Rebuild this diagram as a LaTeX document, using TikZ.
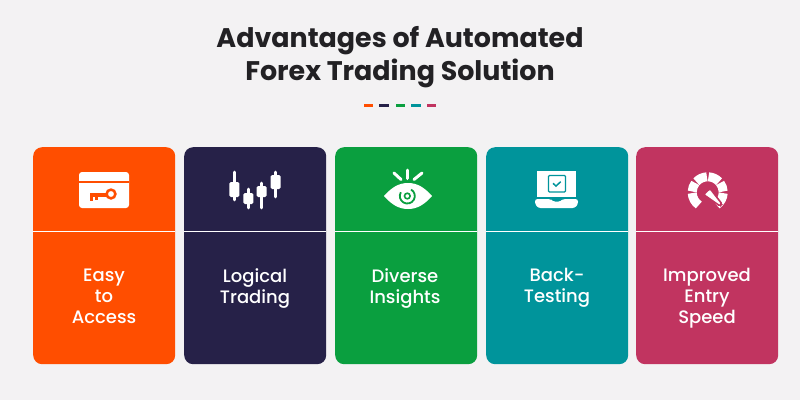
\documentclass[tikz,border=0pt]{standalone}
\usepackage{fontspec}
\setmainfont{Poppins}
\newfontfamily\labelfont{Poppins Medium}
\definecolor{pageback}{HTML}{F3F2F3}
\definecolor{titleink}{HTML}{222124}
\definecolor{cardorange}{HTML}{FF4E00}
\definecolor{cardnavy}{HTML}{262148}
\definecolor{cardgreen}{HTML}{0A9F3F}
\definecolor{cardteal}{HTML}{00949B}
\definecolor{cardrose}{HTML}{C13460}
\tikzset{
  card/.style={fill=#1, minimum width=142pt, minimum height=217pt, rounded corners=9pt, anchor=north west, inner sep=0pt},
  cardtext/.style={text=white, font=\labelfont\fontsize{18}{21}\selectfont, align=center},
  divider/.style={draw=white, line width=1pt},
  headtext/.style={text=titleink, font=\bfseries\fontsize{26.9}{33}\selectfont, align=center},
  tick/.style={line width=3.5pt}
}
\begin{document}
\begin{tikzpicture}[x=1pt,y=-1pt]
\useasboundingbox (0,0) rectangle (800,400);
\fill[pageback] (0,0) rectangle (800,400);

\node[headtext] (title) at (400,57) {Advantages of Automated\\Forex Trading Solution};

\draw[tick,cardorange] (364,105.7) -- (373,105.7);
\draw[tick,cardnavy] (379,105.7) -- (389,105.7);
\draw[tick,cardgreen] (396,105.7) -- (405,105.7);
\draw[tick,cardteal] (411,105.7) -- (421,105.7);
\draw[tick,cardrose] (427,105.7) -- (436,105.7);

\node[card=cardorange] (access) at (33,147) {};
\node[card=cardnavy] (logical) at (184,147) {};
\node[card=cardgreen] (diverse) at (335,147) {};
\node[card=cardteal] (backtest) at (486,147) {};
\node[card=cardrose] (entry) at (636,147) {};

\foreach \c in {access,logical,diverse,backtest,entry}
  \draw[divider] (\c.west |- 0,231) -- (\c.east |- 0,231);

\node[cardtext] (accesstext) at (104,296.5) {Easy\\to\\Access};
\node[cardtext] (logicaltext) at (255,288.5) {Logical\\Trading};
\node[cardtext] (diversetext) at (405,288.5) {Diverse\\Insights};
\node[cardtext] (backtesttext) at (557,287.5) {Back-\\Testing};
\node[cardtext] (entrytext) at (707,298.5) {Improved\\Entry\\Speed};

% key card
\fill[white,rounded corners=3pt] (79,172) rectangle (129,208);
\fill[cardorange] (79,181) rectangle (129,183);
\draw[cardorange,line width=2.5pt] (111,194) circle (4.4);
\fill[cardorange] (90,193) rectangle (107,196.5);
\fill[cardorange] (90,193) rectangle (92.8,200.5);
\fill[cardorange] (95,193) rectangle (97.8,199.5);

% candles
\foreach \x/\wa/\wb/\ba/\bb in {234.3/172/200/182/197, 248.3/189/208/193/204, 261.7/183/208/186/197, 275.7/172/197/175/189} {
  \draw[white,line width=2.8pt,line cap=round] (\x,\wa) -- (\x,\wb);
  \fill[white,rounded corners=1.5pt] (\x-5,\ba) rectangle (\x+5,\bb);
}

% eye
\fill[white] (384,196) .. controls (392,187) and (399,183) .. (408,183) .. controls (417,183) and (424,187) .. (432,196)
  .. controls (424,205) and (417,209) .. (408,209) .. controls (399,209) and (392,205) .. (384,196) -- cycle;
\draw[cardgreen,line width=1.8pt] (407.3,196)++(-60:7.5) arc[start angle=-60, end angle=210, radius=7.5];
\draw[cardgreen,line width=1.6pt] (407.3,196) circle (2.8);
\draw[white,line width=3pt,line cap=round] (407.8,170) -- (407.8,178.5);
\draw[white,line width=3pt,line cap=round] (394,173) -- (401,179.5);
\draw[white,line width=3pt,line cap=round] (422,173) -- (414,179.5);

% laptop
\fill[white] (537,171) rectangle (576,197);
\draw[cardteal,line width=1.3pt,rounded corners=1pt] (548.5,175.5) rectangle (565.5,192);
\draw[cardteal,line width=1.5pt] (553,183.3) -- (556,186) -- (560.7,181.7);
\fill[white,rounded corners=2.5pt] (535,199) -- (550.7,199) -- (552.5,201.5) -- (561,201.5) -- (562.7,199) -- (578,199) -- (578,204) -- (575,208) -- (538,208) -- (535,204) -- cycle;

% gauge
\foreach \a/\b in {-183/-235, -143/-177, -93/-137, -43/-87, -3/-37, 3/55}
  \draw[white,line width=9pt] (707.7,192.3)++(\a:15.5) arc[start angle=\a, end angle=\b, radius=15.5];
\fill[white,draw=cardrose,line width=1.6pt,rounded corners=1.5pt] (703.5,194.5) -- (710,188.5) -- (722,204) -- (720,206) -- cycle;
\end{tikzpicture}
\end{document}
